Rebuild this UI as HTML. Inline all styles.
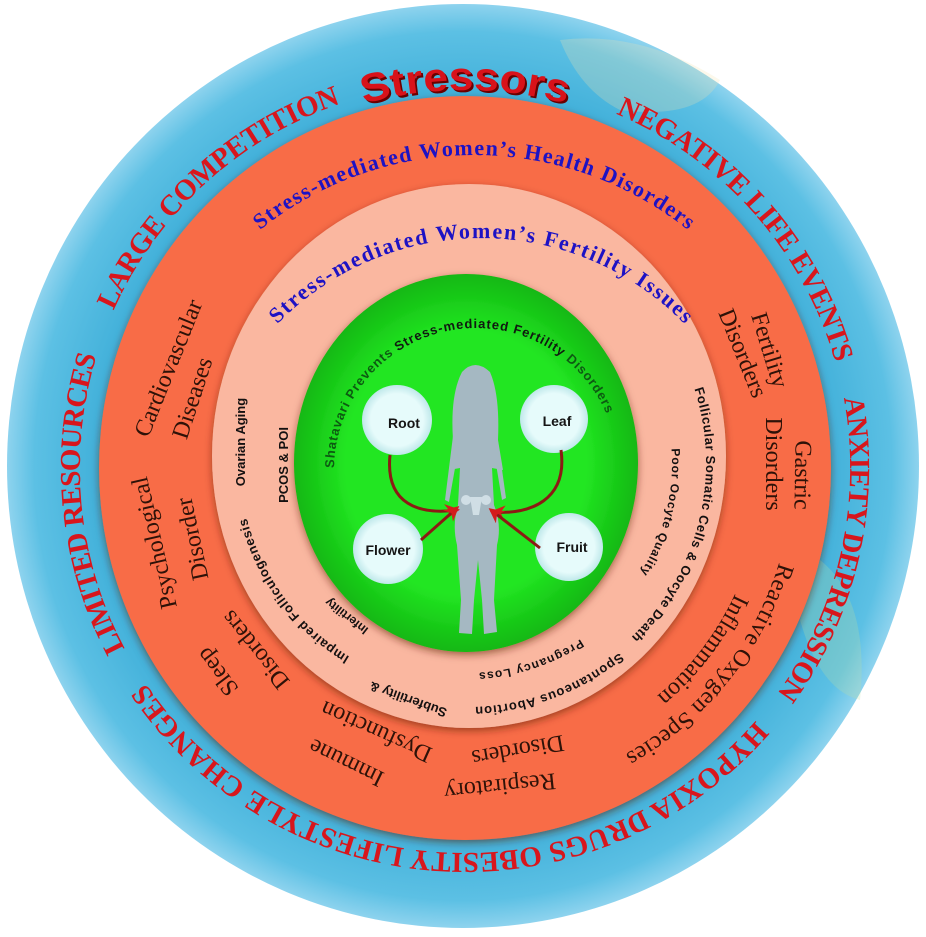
<!DOCTYPE html>
<html><head><meta charset="utf-8"><style>
html,body{margin:0;padding:0;background:#fff;}
svg{display:block;}
.ser{font-family:"Liberation Serif",serif;}
.san{font-family:"Liberation Sans",sans-serif;}
</style></head><body>
<svg width="926" height="937" viewBox="0 0 926 937" xmlns="http://www.w3.org/2000/svg">
<defs>
<radialGradient id="sea" cx="50%" cy="50%" r="50%">
<stop offset="0.78" stop-color="#3eaed8"/><stop offset="0.94" stop-color="#5cc0e4"/><stop offset="1" stop-color="#8ed3ee"/>
</radialGradient>
<radialGradient id="grn" cx="50%" cy="50%" r="50%">
<stop offset="0.7" stop-color="#22e622"/><stop offset="1" stop-color="#12b812"/>
</radialGradient>
<radialGradient id="bub" cx="50%" cy="50%" r="50%">
<stop offset="0.75" stop-color="#e6fbfb"/><stop offset="1" stop-color="#bfe8ea"/>
</radialGradient>
<filter id="sh" x="-10%" y="-10%" width="120%" height="120%"><feDropShadow dx="0" dy="3" stdDeviation="4" flood-color="#5a1a00" flood-opacity="0.55"/></filter>
<marker id="ah" viewBox="0 0 10 10" refX="8" refY="5" markerWidth="5" markerHeight="5" orient="auto">
<path d="M0,0 L10,5 L0,10 L3,5 Z" fill="#d41c1c"/></marker>
<path id="outer" d="M465 83 A385 385 0 1 1 465 853 A385 385 0 1 1 465 83"/>
<path id="stres" d="M276 140.6 A378 378 0 0 1 654 140.6"/>
<path id="hdr1" d="M211.3 277.5 A343 343 0 0 1 736.7 277.5"/>
<path id="hdr2" d="M235.1 380 A284 284 0 0 1 726.9 380"/>
<path id="gtx" d="M334 470 A142 142 0 0 1 618 470"/>
<path id="ros" d="M781.8 552.9 A328 328 0 0 1 613.9 760.2"/>
<path id="infl" d="M739.3 584.4 A298 298 0 0 1 648.5 702.8"/>
<path id="impf" d="M349.6 656.7 A226 226 0 0 1 246.7 517.7"/>
<path id="spab" d="M619.5 652.6 A244 244 0 0 1 474.5 706.9"/>
<path id="preg" d="M580.4 639.1 A210 210 0 0 1 477 672.7"/>
<path id="foll" d="M694.3 388.8 A240 240 0 0 1 629.7 638.5"/>
<path id="poor" d="M671.5 448.6 A206 206 0 0 1 638.8 575.2"/>
</defs>

<!-- outer map ring -->
<ellipse cx="463" cy="466" rx="456" ry="462" fill="url(#sea)"/>
<g opacity="0.25">
<path d="M560 40 Q640 30 720 80 Q700 120 620 110 Q580 90 560 40Z" fill="#f3e3b0"/>
<path d="M820 560 Q870 600 860 700 Q820 690 800 620Z" fill="#bfe0a0"/>
</g>

<!-- orange ring -->
<ellipse cx="465" cy="468" rx="366" ry="372" fill="#f86c46" filter="url(#sh)"/>
<!-- salmon ring -->
<ellipse cx="469" cy="456" rx="257" ry="272" fill="#fab7a0" filter="url(#sh)"/>
<!-- green -->
<ellipse cx="466" cy="463" rx="172" ry="189" fill="url(#grn)" filter="url(#sh)"/>

<!-- outer labels -->
<g class="ser" font-weight="bold" font-size="29" fill="#d8161c">
<text><textPath href="#outer" startOffset="1976" textLength="316" lengthAdjust="spacing">LARGE COMPETITION</textPath></text>
<text><textPath href="#outer" startOffset="155" textLength="343" lengthAdjust="spacing">NEGATIVE LIFE EVENTS</textPath></text>
<text><textPath href="#outer" startOffset="534" textLength="312" lengthAdjust="spacing">ANXIETY DEPRESSION</textPath></text>
<text><textPath href="#outer" startOffset="880" textLength="706" lengthAdjust="spacing">HYPOXIA  DRUGS  OBESITY  LIFESTYLE CHANGES</textPath></text>
<text><textPath href="#outer" startOffset="1626" textLength="302" lengthAdjust="spacing">LIMITED RESOURCES</textPath></text>
</g>
<text class="san" font-weight="bold" font-size="40" fill="#6a0000" transform="translate(2,2)"><textPath href="#stres" startOffset="50%" text-anchor="middle" textLength="205" lengthAdjust="spacingAndGlyphs">Stressors</textPath></text>
<text class="san" font-weight="bold" font-size="40" fill="#d8121a"><textPath href="#stres" startOffset="50%" text-anchor="middle" textLength="205" lengthAdjust="spacingAndGlyphs">Stressors</textPath></text>

<!-- headers -->
<text class="ser" font-weight="bold" font-size="22" fill="#1d12c4"><textPath href="#hdr1" startOffset="50%" text-anchor="middle" textLength="462" lengthAdjust="spacing">Stress-mediated Women’s Health Disorders</textPath></text>
<text class="ser" font-weight="bold" font-size="22" fill="#1d12c4"><textPath href="#hdr2" startOffset="50%" text-anchor="middle" textLength="454" lengthAdjust="spacing">Stress-mediated  Women’s  Fertility Issues</textPath></text>

<!-- orange ring labels -->
<g class="ser" font-size="24" fill="#2e1208" text-anchor="middle">
<text transform="translate(168,368) rotate(-68)" dy="8">Cardiovascular</text>
<text transform="translate(192,398) rotate(-72)" dy="8">Diseases</text>
<text transform="translate(154,543) rotate(-103)" dy="8">Psychological</text>
<text transform="translate(192,539) rotate(-102)" dy="8">Disorder</text>
<text transform="translate(217,672) rotate(-127)" dy="8">Sleep</text>
<text transform="translate(255,650) rotate(-129)" dy="8">Disorders</text>
<text transform="translate(346,763) rotate(-154)" dy="8">Immune</text>
<text transform="translate(376,732) rotate(-156)" dy="8">Dysfunction</text>
<text transform="translate(500,787) rotate(174)" dy="8">Respiratory</text>
<text transform="translate(518,751) rotate(170)" dy="8">Disorders</text>
<text transform="translate(803,475) rotate(91)" dy="8">Gastric</text>
<text transform="translate(774,464) rotate(90)" dy="8">Disorders</text>
<text transform="translate(770,350) rotate(73)" dy="8">Fertility</text>
<text transform="translate(743,353) rotate(68)" dy="8">Disorders</text>
</g>
<g class="ser" font-size="24" fill="#2e1208">
<text><textPath href="#ros" startOffset="10" textLength="252" lengthAdjust="spacing">Reactive Oxygen Species</textPath></text>
<text><textPath href="#infl" startOffset="10" textLength="130" lengthAdjust="spacing">Inflammation</textPath></text>
</g>

<!-- salmon ring labels -->
<g class="san" font-weight="bold" font-size="13" fill="#141010">
<text transform="translate(240,442) rotate(-90)" dy="5" text-anchor="middle">Ovarian Aging</text>
<text transform="translate(283,465) rotate(-90)" dy="5" text-anchor="middle">PCOS &amp; POI</text>
<text transform="translate(346,617) rotate(-142)" dy="5" text-anchor="middle" font-size="12">Infertility</text>
<text transform="translate(408,700) rotate(-160)" dy="5" text-anchor="middle">Subfertility &amp;</text>
<text><textPath href="#impf" textLength="177" lengthAdjust="spacing">Impaired Folliculogenesis</textPath></text>
<text><textPath href="#spab" textLength="157" lengthAdjust="spacing">Spontaneous Abortion</textPath></text>
<text font-size="12"><textPath href="#preg" textLength="108" lengthAdjust="spacing">Pregnancy  Loss</textPath></text>
<text><textPath href="#foll" textLength="270" lengthAdjust="spacing">Follicular Somatic Cells &amp; Oocyte Death</textPath></text>
<text font-size="12"><textPath href="#poor" textLength="130" lengthAdjust="spacing">Poor Oocyte Quality</textPath></text>
</g>

<!-- green arc text -->
<text class="san" font-weight="bold" font-size="13"><textPath href="#gtx" startOffset="2" textLength="386" lengthAdjust="spacing"><tspan fill="#0d5a12">Shatavari Prevents </tspan><tspan fill="#101a10">Stress-mediated Fertility </tspan><tspan fill="#0d5a12">Disorders</tspan></textPath></text>

<!-- silhouette -->
<g fill="#a5b8c2">
<path d="M462 372 Q475 358 490 372 Q500 395 498 440 L503 470 L492 468 L494 505 Q502 525 497 545 L494 600 L497 632 L484 634 L482 600 L478 560 L474 600 L472 634 L459 633 L461 600 L457 545 Q452 525 458 505 L460 468 L449 470 L453 440 Q450 395 462 372Z"/>
<path d="M455 420 L445 500 L449 502 L460 440Z"/>
<path d="M495 420 L506 498 L502 500 L492 440Z"/>
</g>
<g fill="#dbe8ee" opacity="0.8">
<circle cx="466" cy="500" r="5"/><circle cx="486" cy="500" r="5"/>
<path d="M470 497 L482 497 L479 515 L473 515Z"/>
</g>

<!-- bubbles -->
<g>
<circle cx="397" cy="420" r="35" fill="url(#bub)"/>
<circle cx="554" cy="419" r="34" fill="url(#bub)"/>
<circle cx="388" cy="549" r="35" fill="url(#bub)"/>
<circle cx="569" cy="547" r="34" fill="url(#bub)"/>
</g>
<g class="san" font-weight="bold" font-size="14" fill="#151515" text-anchor="middle">
<text x="404" y="428">Root</text>
<text x="557" y="426">Leaf</text>
<text x="388" y="555">Flower</text>
<text x="572" y="552">Fruit</text>
</g>

<!-- arrows -->
<g fill="none" stroke="#8c1a14" stroke-width="3" marker-end="url(#ah)">
<path d="M390 455 C385 505 420 515 457 510"/>
<path d="M561 450 C568 500 530 515 493 512"/>
<path d="M421 540 L457 508"/>
<path d="M540 548 L491 510"/>
</g>
</svg>
</body></html>
